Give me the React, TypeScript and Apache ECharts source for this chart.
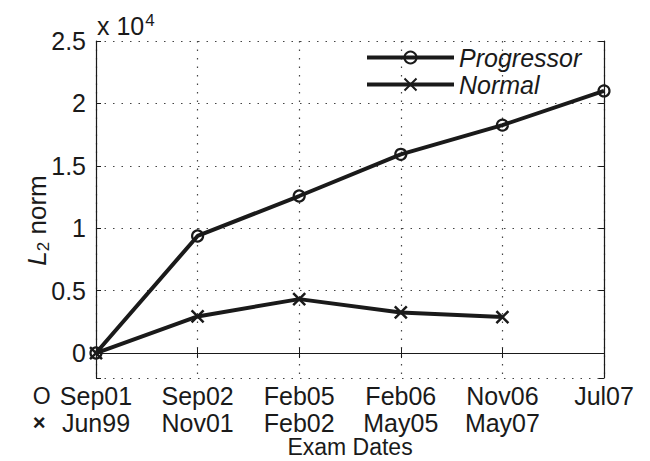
import React, { useEffect, useRef } from "react";
import * as echarts from "echarts";

const progressorDates = ["Sep01", "Sep02", "Feb05", "Feb06", "Nov06", "Jul07"];
const normalDates = ["Jun99", "Nov01", "Feb02", "May05", "May07", ""];
const progressorValues = [0, 9380, 12580, 15920, 18260, 21000];
const normalValues = [0, 2930, 4320, 3250, 2880];
const yMin = -2000;
const yMax = 25000;

const FONT = "Liberation Sans, Arial, Helvetica, sans-serif";
const INK = "#1a1a1a";
const FS = 25;

export default function App() {
  const ref = useRef<HTMLDivElement>(null);
  useEffect(() => {
    if (!ref.current) return;
    const chart = echarts.init(ref.current, undefined, { renderer: "svg" });
    const crossPath = "path://M0,0L10,10M10,0L0,10";
    const option: any = {
      animation: false,
      backgroundColor: "#fff",
      textStyle: { fontFamily: FONT, color: INK },
      title: {
        text: "{a|x 10}{b|4}",
        left: 97,
        top: 12,
        padding: 0,
        textStyle: {
          fontWeight: "normal",
          rich: {
            a: { fontFamily: FONT, fontSize: FS, fontWeight: "normal", lineHeight: 28, color: INK },
            b: { fontFamily: FONT, fontSize: 17, fontWeight: "normal", lineHeight: 17, padding: [0, 0, 12, 1], color: INK },
          },
        },
      },
      legend: {
        orient: "vertical",
        left: 360,
        top: 40,
        itemWidth: 87,
        itemHeight: 15,
        itemGap: 2,
        lineStyle: { width: 4, color: INK },
        textStyle: { fontFamily: FONT, fontSize: FS, fontStyle: "italic", color: INK, lineHeight: 25 },
        data: ["Progressor", "Normal"],
      },
      grid: { left: 96, right: 46, top: 41, bottom: 83, containLabel: false, outerBoundsMode: "none" },
      xAxis: [
        {
          type: "category",
          data: progressorDates,
          boundaryGap: false,
          axisLine: { show: true, lineStyle: { color: INK, width: 1.2 } },
          axisTick: { show: true, inside: true, length: 5, lineStyle: { color: INK } },
          splitLine: { show: true, lineStyle: { color: "#444", type: [1.5, 7], width: 1.2 } },
          axisLabel: {
            interval: 0,
            margin: 4,
            fontFamily: FONT,
            fontSize: FS,
            lineHeight: 27,
            color: INK,
            hideOverlap: false,
            formatter: (v: string, i: number) => {
              const second = normalDates[i] || "";
              if (i === 0) return `{o|O}${v}{p|}\n{x|×}${second}{p|}`;
              return `${v}\n${second}`;
            },
            rich: {
              o: { fontFamily: FONT, fontSize: 23, width: 27, align: "left", color: INK, lineHeight: 27 },
              x: { fontFamily: FONT, fontSize: 22, fontWeight: "bold", width: 27, align: "left", color: INK, lineHeight: 27 },
              p: { width: 27, lineHeight: 27 },
            },
          },
          name: "Exam Dates",
          nameLocation: "middle",
          nameGap: 60,
          nameMoveOverlap: false,
          nameTextStyle: { fontFamily: FONT, fontSize: 23, color: INK, lineHeight: 18 },
        },
        {
          type: "category",
          data: progressorDates,
          boundaryGap: false,
          position: "top",
          axisLine: { show: true, lineStyle: { color: INK, width: 1.2 } },
          axisTick: { show: true, inside: true, length: 5, lineStyle: { color: INK } },
          axisLabel: { show: false },
          splitLine: { show: false },
        },
      ],
      yAxis: [
        {
          type: "value",
          min: yMin,
          max: yMax,
          splitNumber: 5,
          axisLine: { show: true, lineStyle: { color: INK, width: 1.2 } },
          axisTick: { show: true, inside: true, length: 5, lineStyle: { color: INK } },
          splitLine: { show: true, lineStyle: { color: "#444", type: [1.5, 7], width: 1.2 } },
          axisLabel: {
            margin: 10,
            fontFamily: FONT,
            fontSize: FS,
            color: INK,
            formatter: (v: number) => (v < 0 ? "" : String(v / 10000)),
          },
          name: "{i|L}{s|2}{n| norm}",
          nameLocation: "middle",
          nameGap: 44,
          nameMoveOverlap: false,
          nameRotate: 90,
          nameTextStyle: {
            padding: [0, 22, 0, 0],
            rich: {
              i: { fontFamily: FONT, fontSize: 26, fontStyle: "italic", lineHeight: 30, color: INK },
              s: { fontFamily: FONT, fontSize: 17, lineHeight: 17, padding: [13, 0, 0, 0], color: INK },
              n: { fontFamily: FONT, fontSize: 26, lineHeight: 30, color: INK },
            },
          },
        },
        {
          type: "value",
          min: yMin,
          max: yMax,
          splitNumber: 5,
          position: "right",
          axisLine: { show: true, lineStyle: { color: INK, width: 1.2 } },
          axisTick: { show: true, inside: true, length: 5, lineStyle: { color: INK } },
          axisLabel: { show: false },
          splitLine: { show: false },
        },
      ],
      series: [
        {
          name: "Progressor",
          type: "line",
          data: progressorValues,
          symbol: "circle",
          symbolSize: 11,
          showAllSymbol: true,
          lineStyle: { color: INK, width: 4 },
          itemStyle: { color: "rgba(255,255,255,0)", borderColor: INK, borderWidth: 2.2 },
          z: 3,
        },
        {
          name: "Normal",
          type: "line",
          data: normalValues,
          symbol: crossPath,
          symbolSize: 12,
          showAllSymbol: true,
          lineStyle: { color: INK, width: 4 },
          itemStyle: { color: "rgba(255,255,255,0)", borderColor: INK, borderWidth: 2.5 },
          z: 2,
        },
      ],
    };
    chart.setOption(option);
    return () => chart.dispose();
  }, []);
  return (
    <div
      ref={ref}
      style={{ position: "absolute", left: 0, top: 0, width: 650, height: 461 }}
    />
  );
}
